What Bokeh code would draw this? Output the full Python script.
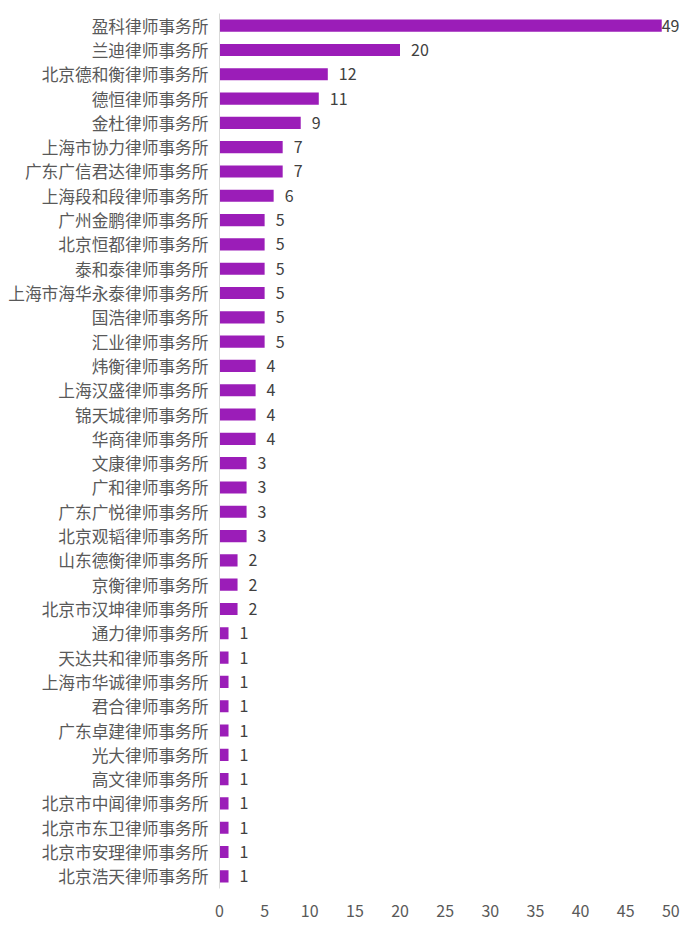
from bokeh.plotting import figure
from bokeh.models import ColumnDataSource, FactorRange, Range1d, FixedTicker
from bokeh.core.properties import value
from bokeh.embed import file_html
from bokeh.resources import INLINE

firms = [
    "盈科律师事务所", "兰迪律师事务所", "北京德和衡律师事务所", "德恒律师事务所",
    "金杜律师事务所", "上海市协力律师事务所", "广东广信君达律师事务所", "上海段和段律师事务所",
    "广州金鹏律师事务所", "北京恒都律师事务所", "泰和泰律师事务所", "上海市海华永泰律师事务所",
    "国浩律师事务所", "汇业律师事务所", "炜衡律师事务所", "上海汉盛律师事务所",
    "锦天城律师事务所", "华商律师事务所", "文康律师事务所", "广和律师事务所",
    "广东广悦律师事务所", "北京观韬律师事务所", "山东德衡律师事务所", "京衡律师事务所",
    "北京市汉坤律师事务所", "通力律师事务所", "天达共和律师事务所", "上海市华诚律师事务所",
    "君合律师事务所", "广东卓建律师事务所", "光大律师事务所", "高文律师事务所",
    "北京市中闻律师事务所", "北京市东卫律师事务所", "北京市安理律师事务所", "北京浩天律师事务所",
]
counts = [49, 20, 12, 11, 9, 7, 7, 6, 5, 5, 5, 5, 5, 5, 4, 4, 4, 4, 3, 3, 3, 3,
          2, 2, 2, 1, 1, 1, 1, 1, 1, 1, 1, 1, 1, 1]
x_ticks = [0, 5, 10, 15, 20, 25, 30, 35, 40, 45, 50]

FONT = "Noto Sans CJK SC"
BAR = "#9B1DB8"

src = ColumnDataSource(dict(
    firm=firms,
    count=counts,
    label=[str(c) for c in counts],
    xoff=[0 if c >= 45 else 11 for c in counts],
))

p = figure(
    width=682, height=922,
    y_range=FactorRange(factors=list(reversed(firms)), range_padding=0),
    x_range=Range1d(0, 51.3),
    output_backend="svg", toolbar_location=None,
    min_border_left=219, min_border_top=13, min_border_right=0, min_border_bottom=34,
)
p.hbar(y="firm", right="count", left=0, height=0.5, source=src,
       fill_color=BAR, line_color=None)
p.text(x="count", y="firm", text="label", source=src, x_offset="xoff",
       text_align="left", text_baseline="middle",
       text_font=value(FONT), text_font_size="16px", text_color="#404040")

p.outline_line_color = None
p.xgrid.grid_line_color = None
p.ygrid.grid_line_color = None
p.background_fill_color = "white"
p.border_fill_color = "white"

p.xaxis.ticker = FixedTicker(ticks=x_ticks)
p.xaxis.axis_line_color = None
p.xaxis.major_tick_line_color = None
p.xaxis.minor_tick_line_color = None
p.xaxis.major_label_standoff = 10
p.xaxis.major_label_text_font = FONT
p.xaxis.major_label_text_font_size = "16px"
p.xaxis.major_label_text_color = "#595959"

p.yaxis.axis_line_color = "#d9d9d9"
p.yaxis.axis_line_width = 1
p.yaxis.major_tick_line_color = None
p.yaxis.minor_tick_line_color = None
p.yaxis.major_label_standoff = 5
p.yaxis.major_label_text_font = FONT
p.yaxis.major_label_text_font_size = "16.7px"
p.yaxis.major_label_text_color = "#595959"

open("out.html", "w").write(file_html(p, INLINE))
